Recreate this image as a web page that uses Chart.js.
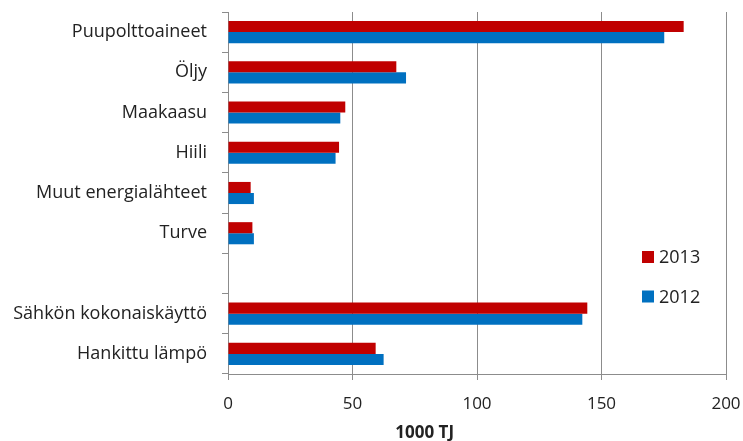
<!DOCTYPE html>
<html>
<head>
<meta charset="utf-8">
<title>Energialähteet 2012–2013</title>
<script src="https://cdn.jsdelivr.net/npm/chart.js@4/dist/chart.umd.min.js"></script>
<style>
  html, body { margin: 0; padding: 0; background: #ffffff; }
  #wrap { width: 743px; height: 441px; position: relative; }
</style>
</head>
<body>
<div id="wrap"><canvas id="chart" width="743" height="441"></canvas></div>
<script>
// Categories (empty string leaves a gap row between fuels and purchased energy)
const categories = [
  'Puupolttoaineet',
  'Öljy',
  'Maakaasu',
  'Hiili',
  'Muut energialähteet',
  'Turve',
  '',
  'Sähkön kokonaiskäyttö',
  'Hankittu lämpö'
];

// Values in 1000 TJ
const values2013 = [183, 67.6, 47.1, 44.6, 9.1, 9.8, null, 144.3, 59.3];
const values2012 = [175.2, 71.5, 45.1, 43.2, 10.4, 10.4, null, 142.3, 62.5];

const seriesLabels = ['2013', '2012'];
const xTicks = [0, 50, 100, 150, 200];
const axisTitle = '1000 TJ';

const RED = '#C00000';
const BLUE = '#0070C0';
const GRID = '#8c8c8c';
const TEXT = '#222222';
const FONT = '"Open Sans", "DejaVu Sans", sans-serif';

// Legend drawn inside the plot area, right side
const innerLegend = {
  id: 'innerLegend',
  afterDraw(chart) {
    const ctx = chart.ctx;
    const area = chart.chartArea;
    const x0 = area.right - 84;
    const rows = [area.top + 245, area.top + 284.5];
    ctx.save();
    ctx.font = '18px ' + FONT;
    ctx.textBaseline = 'middle';
    ctx.textAlign = 'left';
    chart.data.datasets.forEach((ds, i) => {
      const y = rows[i];
      ctx.fillStyle = ds.backgroundColor;
      ctx.fillRect(x0, y - 6, 12, 12);
      ctx.fillStyle = TEXT;
      ctx.fillText(ds.label, x0 + 17, y + 1);
    });
    ctx.restore();
  }
};

// Axis title below the value axis
const axisTitlePlugin = {
  id: 'axisTitlePlugin',
  afterDraw(chart) {
    const ctx = chart.ctx;
    const area = chart.chartArea;
    ctx.save();
    ctx.font = 'bold 17px ' + FONT;
    ctx.fillStyle = TEXT;
    ctx.textAlign = 'center';
    ctx.textBaseline = 'middle';
    ctx.fillText(axisTitle, area.left + (area.right - area.left) * 0.395, area.bottom + 59);
    ctx.restore();
  }
};

new Chart(document.getElementById('chart'), {
  type: 'bar',
  data: {
    labels: categories,
    datasets: [
      { label: seriesLabels[0], data: values2013, backgroundColor: RED, borderWidth: 0 },
      { label: seriesLabels[1], data: values2012, backgroundColor: BLUE, borderWidth: 0 }
    ]
  },
  options: {
    indexAxis: 'y',
    responsive: false,
    animation: false,
    devicePixelRatio: 1,
    categoryPercentage: 0.55,
    barPercentage: 1.0,
    layout: { padding: { top: 12, right: 17, bottom: 0, left: 0 } },
    plugins: {
      legend: { display: false },
      tooltip: { enabled: false }
    },
    scales: {
      x: {
        type: 'linear',
        min: 0,
        max: 200,
        afterBuildTicks(scale) { scale.ticks = xTicks.map(v => ({ value: v })); },
        afterFit(scale) {
          scale.height = 67;
          scale.paddingLeft = 0;
          scale.paddingRight = 0;
        },
        grid: { color: GRID, lineWidth: 1, drawTicks: true, tickLength: 6, tickColor: GRID },
        border: { display: true, color: GRID, width: 1 },
        ticks: { color: TEXT, font: { family: FONT, size: 17 }, padding: 14 }
      },
      y: {
        type: 'category',
        afterFit(scale) {
          scale.width = 228;
          scale.paddingTop = 0;
          scale.paddingBottom = 0;
        },
        grid: { display: true, drawOnChartArea: false, drawTicks: true, tickLength: 6, color: GRID, offset: true },
        border: { display: true, color: GRID, width: 1 },
        ticks: { color: TEXT, font: { family: FONT, size: 18 }, padding: 15, autoSkip: false }
      }
    }
  },
  plugins: [innerLegend, axisTitlePlugin]
});
</script>
</body>
</html>
